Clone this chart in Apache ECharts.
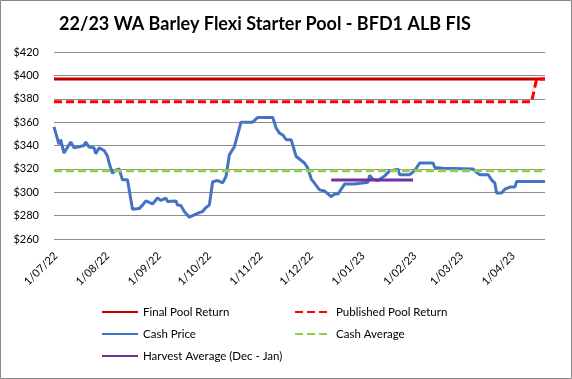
<!DOCTYPE html>
<html>
<head>
<meta charset="utf-8">
<script src="https://cdn.jsdelivr.net/npm/echarts@6/dist/echarts.min.js"></script>
<style>
html,body{margin:0;padding:0;background:#fff;}
#chart{width:572px;height:379px;}
</style>
</head>
<body>
<div id="chart"></div>
<script>
// ---- data ----
var title = '22/23 WA Barley Flexi Starter Pool - BFD1 ALB FIS';
var xStart = '2022-06-30';
var xEnd = '2023-04-20';
var tickDates = ['2022-07-01','2022-08-01','2022-09-01','2022-10-01','2022-11-01','2022-12-01','2023-01-01','2023-02-01','2023-03-01','2023-04-01'];
var tickLabels = ['1/07/22','1/08/22','1/09/22','1/10/22','1/11/22','1/12/22','1/01/23','1/02/23','1/03/23','1/04/23'];
var yTicks = [260, 280, 300, 320, 340, 360, 380, 400, 420];

var finalDates = ['2022-06-30', '2023-04-20'];
var finalValues = [397, 397];

var publishedDates = ['2022-06-30', '2023-04-12', '2023-04-15', '2023-04-20'];
var publishedValues = [377.5, 377.5, 397, 397];

var cashDates = [
 '2022-06-30','2022-07-03','2022-07-04','2022-07-06','2022-07-10','2022-07-12','2022-07-15','2022-07-18','2022-07-19','2022-07-20',
 '2022-07-21','2022-07-24','2022-07-25','2022-07-27','2022-07-30','2022-08-01','2022-08-02','2022-08-04','2022-08-06','2022-08-08',
 '2022-08-10','2022-08-13','2022-08-16','2022-08-20','2022-08-22','2022-08-24','2022-08-28','2022-08-31','2022-09-02','2022-09-05',
 '2022-09-06','2022-09-11','2022-09-12','2022-09-14','2022-09-16','2022-09-19','2022-09-20','2022-09-25','2022-09-27','2022-09-29',
 '2022-10-01','2022-10-03','2022-10-06','2022-10-09','2022-10-11','2022-10-12','2022-10-13','2022-10-16','2022-10-17','2022-10-20',
 '2022-10-27','2022-10-30','2022-11-08','2022-11-10','2022-11-12','2022-11-14','2022-11-16','2022-11-19','2022-11-22','2022-11-27',
 '2022-11-29','2022-12-01','2022-12-06','2022-12-09','2022-12-13','2022-12-15','2022-12-17','2022-12-21','2022-12-27','2022-12-28',
 '2023-01-04','2023-01-05','2023-01-07','2023-01-10','2023-01-14','2023-01-17','2023-01-22','2023-01-23','2023-01-29','2023-02-01',
 '2023-02-04','2023-02-12','2023-02-13','2023-02-18','2023-02-19','2023-03-08','2023-03-10','2023-03-12','2023-03-17','2023-03-19',
 '2023-03-21','2023-03-22','2023-03-25','2023-03-27','2023-03-30','2023-04-02','2023-04-03','2023-04-20'
];
var cashValues = [
 356, 341, 345, 333.5, 343, 338, 339, 340, 343, 343,
 338.6, 338, 333, 338, 335.7, 331, 325, 316.3, 319, 320,
 310.6, 310.6, 285.5, 286, 289, 292.6, 290, 295, 293, 295,
 292, 292.6, 289, 288.6, 283.5, 278.7, 280.4, 282.6, 283.5, 287,
 289, 309, 310, 308, 313.5, 315, 332, 339, 340, 360,
 360, 364, 364, 355, 350.6, 349, 345, 345, 330.6, 325,
 320.6, 311.5, 302, 301, 296.3, 298.4, 298.4, 307, 307, 308.6,
 308.6, 314.5, 311, 310, 314, 318.3, 319.8, 315, 315, 318.6,
 325, 325, 321.2, 320.6, 319.8, 319.8, 317, 315, 315, 310.6,
 307.8, 299.3, 299.3, 302.7, 304.4, 304.4, 309.2, 309.2
];

var avgDates = ['2022-06-30', '2023-04-20'];
var avgValues = [318.3, 318.3];

var harvestDates = ['2022-12-13', '2023-01-31'];
var harvestValues = [310.5, 310.5];

var seriesNames = ['Final Pool Return', 'Published Pool Return', 'Cash Price', 'Cash Average', 'Harvest Average (Dec - Jan)'];

// ---- build ----
function ts(s) { var p = s.split('-'); return new Date(+p[0], +p[1] - 1, +p[2]).getTime(); }
function pairs(d, v) { return d.map(function (x, i) { return [ts(x), v[i]]; }); }
var tickTs = tickDates.map(ts);
function labelFor(v) {
  for (var i = 0; i < tickTs.length; i++) { if (Math.abs(tickTs[i] - v) < 3600000 * 2) return tickLabels[i]; }
  return '';
}

var FONT = 'Lato';
function lineSeries(name, data, color, type) {
  return {
    name: name, type: 'line', data: data, symbol: 'none', animation: false,
    lineStyle: { color: color, width: 3, type: type || 'solid', cap: 'butt' },
    itemStyle: { color: color }
  };
}
var legendCommon = {
  orient: 'vertical', top: 301, itemWidth: 36, itemHeight: 14, itemGap: 10,
  itemStyle: { opacity: 0 },
  textStyle: { fontFamily: FONT, fontSize: 11.5, color: '#000', padding: [0, 0, 0, 0] }
};

var chart = echarts.init(document.getElementById('chart'), null, { renderer: 'canvas' });
chart.setOption({
  animation: false,
  backgroundColor: '#ffffff',
  textStyle: { fontFamily: FONT },
  title: {
    text: title, left: 260, top: 10, textAlign: 'center',
    textStyle: { fontFamily: FONT, fontWeight: 'bold', fontSize: 18, color: '#000' }
  },
  grid: { left: 54, right: 27, top: 52, bottom: 140, containLabel: false },
  xAxis: {
    type: 'value', min: ts(xStart), max: ts(xEnd),
    axisLine: { show: false },
    axisTick: { show: false, customValues: tickTs },
    splitLine: { show: false },
    axisLabel: {
      customValues: tickTs, rotate: 45, margin: 15,
      fontFamily: FONT, fontSize: 11, color: '#000',
      formatter: function (v) { return labelFor(v); }
    }
  },
  yAxis: {
    type: 'value', min: yTicks[0], max: yTicks[yTicks.length - 1], interval: 20,
    axisLine: { show: false }, axisTick: { show: false },
    splitLine: { lineStyle: { color: '#8c8c8c', width: 1 } },
    axisLabel: { margin: 15, fontFamily: FONT, fontSize: 11, color: '#000', formatter: function (v) { return '$' + v; } }
  },
  legend: [
    Object.assign({ data: [seriesNames[0], seriesNames[2], seriesNames[4]], left: 96 }, legendCommon),
    Object.assign({ data: [seriesNames[1], seriesNames[3]], left: 289 }, legendCommon)
  ],
  graphic: [{ type: 'rect', shape: { x: 0.5, y: 0.5, width: 571, height: 378 }, style: { fill: null, stroke: '#8a8a8a', lineWidth: 1 }, silent: true, z: 100 }],
  series: [
    lineSeries(seriesNames[0], pairs(finalDates, finalValues), '#C00000'),
    lineSeries(seriesNames[1], pairs(publishedDates, publishedValues), '#FF0000', [8, 4]),
    lineSeries(seriesNames[2], pairs(cashDates, cashValues), '#4472C4'),
    lineSeries(seriesNames[3], pairs(avgDates, avgValues), '#92D050', [8, 4]),
    lineSeries(seriesNames[4], pairs(harvestDates, harvestValues), '#7030A0')
  ]
});
</script>
</body>
</html>
